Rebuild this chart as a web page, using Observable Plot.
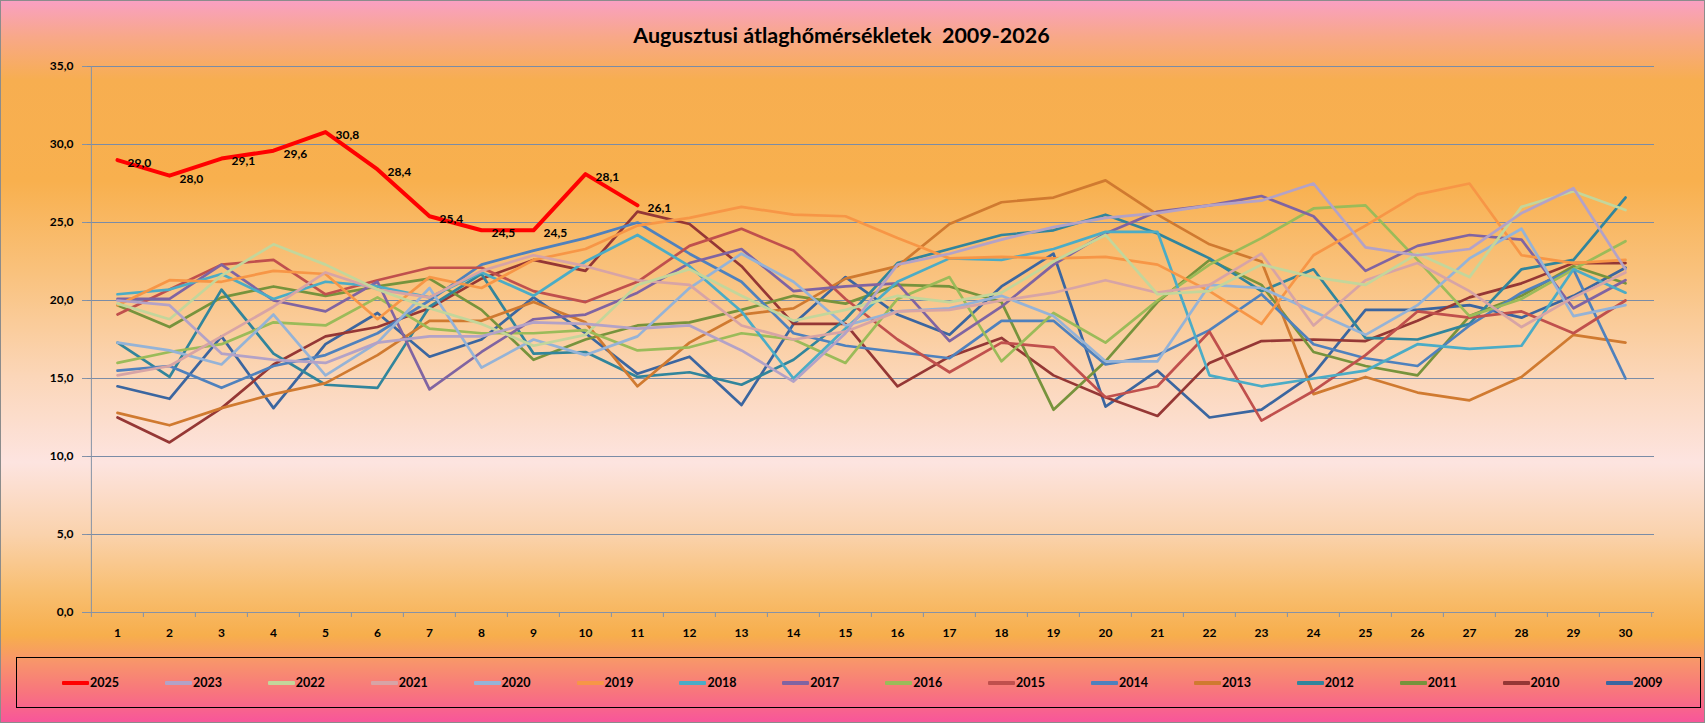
<!DOCTYPE html>
<html>
<head>
<meta charset="utf-8">
<script src="https://cdn.jsdelivr.net/npm/d3@7"></script>
<script src="https://cdn.jsdelivr.net/npm/@observablehq/plot@0.6"></script>
<style>
  html, body { margin: 0; padding: 0; }
  #chart {
    position: relative; box-sizing: border-box; width: 1705px; height: 723px;
    border: 1px solid #8c8c8c; overflow: hidden;
    font-family: Lato, "Open Sans", sans-serif;
    background: linear-gradient(to bottom,
      #F9A0C2 0%, #F8A888 5%, #F7AE50 11%, #F8B04E 25%, #F9C27E 38%, #FBD6B8 52%,
      #FDE4E0 64%, #FAD2AC 74%, #F8BE70 82%, #F7AE4C 88%, #F8966A 91.5%, #F8747E 96%, #F8569A 100%);
  }
  #title { box-sizing: border-box; height: 56px; padding-top: 22px; padding-right: 22px; line-height: 24px;
    text-align: center; font-weight: bold; font-size: 21.5px; color: #000; white-space: pre; }
  #plot svg { display: block; }
  #legend { position: relative; box-sizing: border-box; margin: 10px 0 0 15px; width: 1685px; height: 51px;
    border: 1px solid #000; }
  .item { position: absolute; top: 0; height: 49px; display: flex; align-items: center;
    font-weight: bold; font-size: 12.5px; color: #000; }
  .swatch { width: 27px; height: 4px; margin-right: 1px; border-radius: 1px; }
</style>
</head>
<body>
<div id="chart">
  <div id="title">Augusztusi átlaghőmérsékletek  2009-2026</div>
  <div id="plot"></div>
  <div id="legend"></div>
</div>
<script>
const days = [1,2,3,4,5,6,7,8,9,10,11,12,13,14,15,16,17,18,19,20,21,22,23,24,25,26,27,28,29,30];
const yTicks = [0,5,10,15,20,25,30,35];
const years  = ["2025","2023","2022","2021","2020","2019","2018","2017","2016","2015","2014","2013","2012","2011","2010","2009"];
const colors = ["#FF0000","#B3A2C7","#C3D69B","#D7A4A6","#95B3D7","#F79646","#4BACC6","#8064A2","#9BBB59","#C0504D","#4F81BD","#D07A30","#31859C","#77933C","#953735","#3B66A0"];

const t2025 = [29.0, 28.0, 29.1, 29.6, 30.8, 28.4, 25.4, 24.5, 24.5, 28.1, 26.1];
const t2023 = [20.0, 19.7, 16.6, 16.2, 16.0, 17.3, 17.7, 17.7, 18.6, 18.5, 18.2, 18.4, 16.8, 14.8, 17.9, 22.3, 23.0, 23.9, 24.7, 25.3, 25.6, 26.1, 26.4, 27.5, 23.4, 22.9, 23.3, 25.6, 27.2, 22.0];
const t2022 = [19.8, 18.8, 21.6, 23.6, 22.3, 20.7, 19.5, 18.5, 17.1, 17.8, 21.0, 22.0, 20.3, 18.7, 19.4, 20.3, 19.9, 20.5, 22.5, 24.2, 20.4, 20.6, 22.3, 21.5, 21.0, 23.0, 21.5, 26.0, 27.0, 25.8];
const t2021 = [15.2, 15.8, 17.7, 19.6, 21.8, 20.7, 20.2, 21.9, 22.9, 22.2, 21.3, 21.0, 18.4, 17.5, 18.0, 19.3, 19.4, 20.0, 20.5, 21.3, 20.5, 21.0, 23.0, 18.4, 21.3, 22.4, 20.6, 18.3, 20.2, 21.8];
const t2020 = [17.3, 16.8, 15.9, 19.1, 15.2, 17.3, 20.8, 15.7, 17.5, 16.5, 17.7, 20.8, 23.0, 21.2, 18.4, 19.3, 19.5, 20.3, 19.0, 16.1, 16.1, 21.0, 20.8, 19.3, 17.8, 19.7, 22.7, 24.6, 19.0, 19.7];
const t2019 = [19.7, 21.3, 21.2, 21.9, 21.7, 18.8, 21.5, 20.8, 22.6, 23.3, 24.8, 25.3, 26.0, 25.5, 25.4, 24.0, 22.7, 22.8, 22.7, 22.8, 22.3, 20.6, 18.5, 22.9, 24.8, 26.8, 27.5, 22.9, 22.4, 22.6];
const t2018 = [20.4, 20.7, 21.7, 20.1, 21.2, 20.9, 20.2, 21.8, 20.3, 22.5, 24.2, 22.2, 19.3, 15.0, 18.2, 21.2, 22.7, 22.6, 23.3, 24.4, 24.4, 15.2, 14.5, 15.0, 15.5, 17.2, 16.9, 17.1, 22.0, 20.5];
const t2017 = [20.1, 20.1, 22.3, 20.0, 19.3, 21.2, 14.3, 16.7, 18.8, 19.1, 20.5, 22.4, 23.3, 20.6, 20.9, 21.1, 17.4, 19.6, 22.3, 24.3, 25.7, 26.1, 26.7, 25.4, 21.9, 23.5, 24.2, 23.9, 19.5, 21.3];
const t2016 = [16.0, 16.7, 17.2, 18.6, 18.4, 20.2, 18.2, 17.9, 17.9, 18.1, 16.8, 17.0, 17.9, 17.5, 16.0, 20.1, 21.5, 16.1, 19.2, 17.3, 20.0, 22.3, 24.0, 25.9, 26.1, 22.6, 19.0, 20.1, 22.0, 23.8];
const t2015 = [19.1, 20.7, 22.3, 22.6, 20.4, 21.3, 22.1, 22.1, 20.6, 19.9, 21.2, 23.5, 24.6, 23.2, 20.1, 17.5, 15.4, 17.3, 17.0, 13.8, 14.5, 18.0, 12.3, 14.2, 16.5, 19.3, 18.9, 19.3, 17.9, 20.0];
const t2014 = [15.5, 15.8, 14.4, 15.8, 16.5, 17.9, 20.0, 22.3, 23.2, 24.0, 25.0, 23.0, 21.2, 17.9, 17.1, 16.7, 16.3, 18.7, 18.7, 15.9, 16.5, 18.1, 20.4, 17.2, 16.3, 15.8, 18.4, 20.5, 22.0, 15.0];
const t2013 = [12.8, 12.0, 13.1, 14.0, 14.7, 16.5, 18.7, 18.7, 19.9, 18.6, 14.5, 17.3, 19.1, 19.5, 21.4, 22.2, 24.9, 26.3, 26.6, 27.7, 25.5, 23.6, 22.5, 14.0, 15.1, 14.1, 13.6, 15.1, 17.8, 17.3];
const t2012 = [17.3, 15.1, 20.7, 16.6, 14.6, 14.4, 19.6, 21.7, 16.6, 16.7, 15.1, 15.4, 14.6, 16.2, 18.8, 22.4, 23.3, 24.2, 24.5, 25.5, 24.3, 22.7, 20.6, 22.0, 17.6, 17.5, 18.5, 22.0, 22.6, 26.6];
const t2011 = [19.7, 18.3, 20.2, 20.9, 20.3, 20.9, 21.4, 19.4, 16.2, 17.5, 18.4, 18.6, 19.4, 20.3, 19.8, 21.0, 20.9, 19.9, 13.0, 16.1, 19.9, 22.6, 21.0, 16.7, 15.8, 15.2, 19.0, 20.3, 22.2, 21.1];
const t2010 = [12.5, 10.9, 13.1, 15.9, 17.7, 18.3, 19.5, 21.4, 22.6, 21.9, 25.7, 24.9, 22.2, 18.5, 18.5, 14.5, 16.4, 17.6, 15.2, 13.8, 12.6, 16.0, 17.4, 17.5, 17.4, 18.7, 20.2, 21.1, 22.4, 22.4];
const t2009 = [14.5, 13.7, 17.7, 13.1, 17.2, 19.2, 16.4, 17.5, 20.2, 17.9, 15.3, 16.4, 13.3, 18.5, 21.5, 19.1, 17.8, 20.9, 23.0, 13.2, 15.5, 12.5, 13.0, 15.3, 19.4, 19.4, 19.7, 18.9, 20.3, 22.1];

const seriesValues = [t2025, t2023, t2022, t2021, t2020, t2019, t2018, t2017, t2016, t2015, t2014, t2013, t2012, t2011, t2010, t2009];
const rows = years.flatMap((year, k) => seriesValues[k].map((t, i) => ({year, day: days[i], t})));
const rows2025 = rows.filter(d => d.year === "2025");
const rowsOther = rows.filter(d => d.year !== "2025").reverse();

const W = 1703, H = 590, mL = 86, mR = 50, mT = 9, mB = 35;
const step = (W - mL - mR) / days.length;
const axisColor = "#8592A6";
const fmt = v => d3.format(".1f")(v).replace(".", ",");

const chart = Plot.plot({
  width: W, height: H,
  marginLeft: mL, marginRight: mR, marginTop: mT, marginBottom: mB,
  style: {background: "transparent", fontFamily: "Lato, 'Open Sans', sans-serif", fontSize: "12px", fontWeight: "bold", color: "#000", overflow: "visible"},
  x: {type: "point", domain: days, padding: 0.5, label: null},
  y: {domain: [0, 35], label: null},
  color: {domain: years, range: colors},
  marks: [
    Plot.gridY(yTicks, {stroke: "#7A8CA6", strokeOpacity: 1, strokeWidth: 1}),
    Plot.ruleX([days[0]], {y1: 0, y2: 35, dx: -step / 2, stroke: axisColor}),
    Plot.ruleY([0], {stroke: axisColor, strokeWidth: 1.2}),
    Plot.ruleX(days, {x: d => d, y1: 0, y2: 0, insetTop: 5, dx: -step / 2, stroke: axisColor}),
    Plot.ruleX([days[days.length - 1]], {y1: 0, y2: 0, insetTop: 5, dx: step / 2, stroke: axisColor}),
    Plot.axisX({tickSize: 0, tickPadding: 16, fill: "#000", fontWeight: "bold"}),
    Plot.axisY({ticks: yTicks, tickSize: 5, tickPadding: 9, tickFormat: fmt, stroke: axisColor, fill: "#000", fontWeight: "bold"}),
    Plot.line(rowsOther, {x: "day", y: "t", z: "year", stroke: "year", strokeWidth: 2.7, strokeLinejoin: "round", strokeLinecap: "round"}),
    Plot.line(rows2025, {x: "day", y: "t", z: "year", stroke: "year", strokeWidth: 4, strokeLinejoin: "round"}),
    Plot.text(rows2025, {x: "day", y: "t", text: d => fmt(d.t), textAnchor: "start", dx: 10, dy: 3, fill: "#000", fontWeight: "bold", fontSize: 12})
  ]
});
document.getElementById("plot").appendChild(chart);

const legend = document.getElementById("legend");
years.forEach((year, i) => {
  const item = document.createElement("div");
  item.className = "item";
  item.style.left = (45 + i * 102.9) + "px";
  const sw = document.createElement("span");
  sw.className = "swatch";
  sw.style.background = colors[i];
  const label = document.createElement("span");
  label.textContent = year;
  item.appendChild(sw);
  item.appendChild(label);
  legend.appendChild(item);
});
</script>
</body>
</html>
